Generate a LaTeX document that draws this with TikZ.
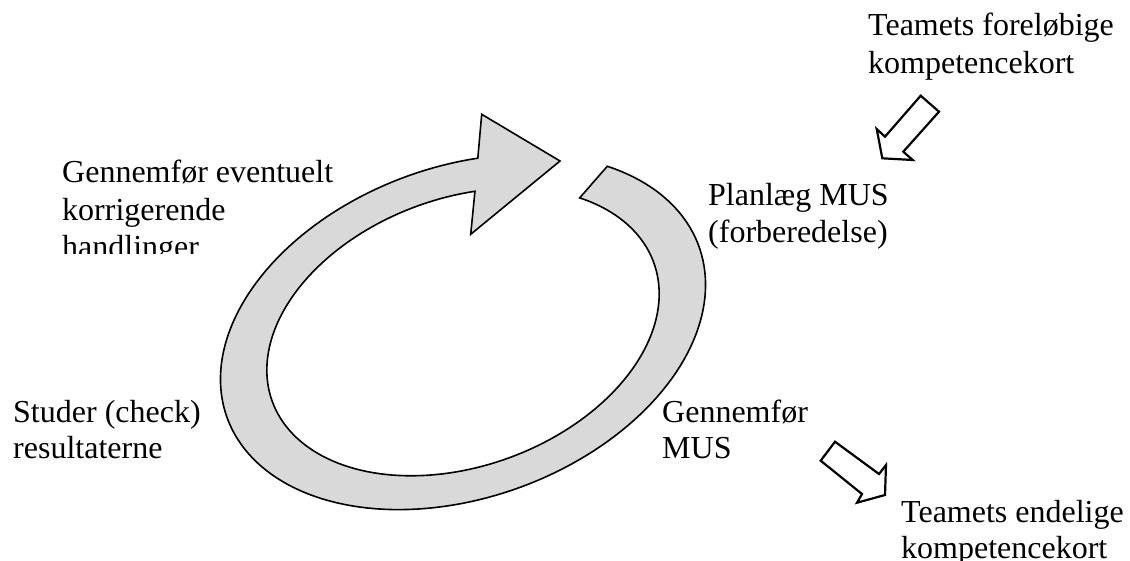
\documentclass[tikz,border=0pt]{standalone}
\usepackage{fontspec}
\setmainfont{Liberation Serif}
\definecolor{ringgray}{RGB}{217,217,217}
\tikzset{
  lbl/.style={anchor=base west, inner sep=0pt, font=\fontsize{32}{37}\selectfont},
  ring/.style={fill=ringgray, draw=black, line width=1.6pt, line join=miter},
  blockarrow/.style={fill=white, draw=black, line width=2.2pt, line join=miter},
}
\begin{document}
\begin{tikzpicture}[x=1pt,y=-1pt]
\useasboundingbox (0,0) rectangle (1130,561);
% circular arrow
\filldraw[ring]
  plot[domain=-40:287, samples=160, variable=\t]
    ({463+251*cos(\t)*0.9397+165.5*sin(\t)*0.3420}, {332-251*cos(\t)*0.3420+165.5*sin(\t)*0.9397})
  -- (481.7,114.3) -- (560,161) -- (470.7,234.3)
  -- plot[domain=287:-40, samples=160, variable=\t]
    ({463+203*cos(\t)*0.9397+134*sin(\t)*0.3420}, {332-203*cos(\t)*0.3420+134*sin(\t)*0.9397})
  -- cycle;
% small block arrows
\filldraw[blockarrow] (920.7,95.7) -- (939,111.7) -- (903.3,151.7) -- (912.7,160)
  -- (882.3,158.3) -- (876.7,129) -- (885,136.7) -- cycle;
\filldraw[blockarrow] (835,441.7) -- (820.7,460.7) -- (862,494) -- (857,502.7)
  -- (885,495) -- (886,465) -- (879,474) -- cycle;
% texts
\node[lbl] (tf1) at (868,36) {Teamets foreløbige};
\node[lbl] (tf2) at (868,74) {kompetencekort};
\node[lbl] (g1) at (62,183) {Gennemfør eventuelt};
\node[lbl] (g2) at (62,220.5) {korrigerende};
\begin{scope}
  \clip (0,0) rectangle (400,254);
  \node[lbl] (g3) at (62,258) {handlinger};
\end{scope}
\node[lbl] (p1) at (708,206) {Planlæg MUS};
\node[lbl] (p2) at (708,243) {(forberedelse)};
\node[lbl] (s1) at (13,422) {Studer (check)};
\node[lbl] (s2) at (13,458) {resultaterne};
\node[lbl] (m1) at (662,422) {Gennemfør};
\node[lbl] (m2) at (662,458) {MUS};
\node[lbl] (te1) at (901,522) {Teamets endelige};
\node[lbl] (te2) at (901,558) {kompetencekort};
\end{tikzpicture}
\end{document}
